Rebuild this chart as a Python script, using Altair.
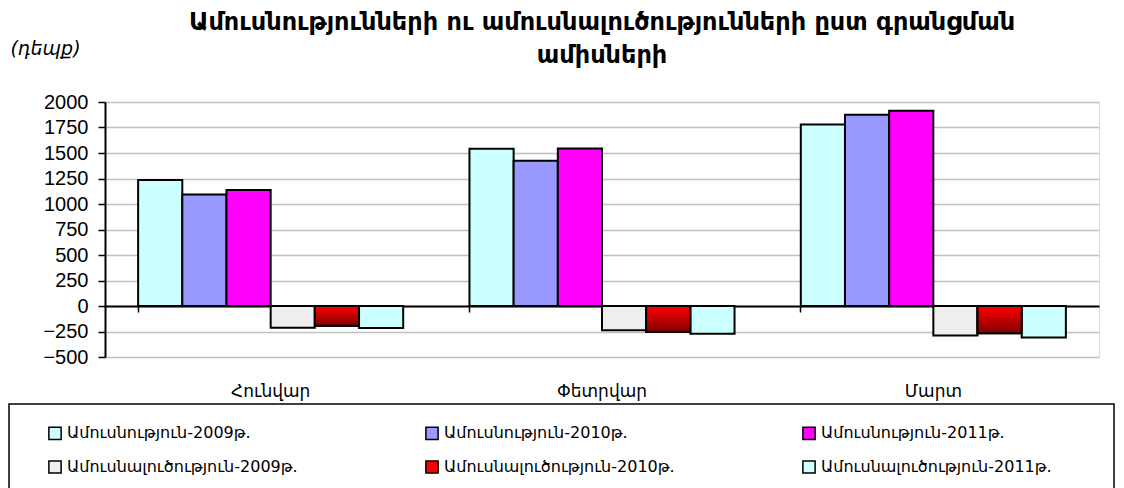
import altair as alt
import pandas as pd

months = ["Հունվար", "Փետրվար", "Մարտ"]
series = [
    "Ամուսնություն-2009թ.",
    "Ամուսնություն-2010թ.",
    "Ամուսնություն-2011թ.",
    "Ամուսնալուծություն-2009թ.",
    "Ամուսնալուծություն-2010թ.",
    "Ամուսնալուծություն-2011թ.",
]
marriage_2009 = [1235, 1542, 1780]
marriage_2010 = [1094, 1425, 1876]
marriage_2011 = [1137, 1545, 1915]
divorce_2009 = [-213, -238, -288]
divorce_2010 = [-193, -256, -268]
divorce_2011 = [-215, -272, -310]
colors = ["#CCFFFF", "#9999FF", "#FF00FF", "#EEEEEE", "#FF0000", "#CCFFFF"]
y_ticks = [-500, -250, 0, 250, 500, 750, 1000, 1250, 1500, 1750, 2000]

title_lines = [
    "Ամուսնությունների ու ամուսնալուծությունների ըստ գրանցման",
    "ամիսների",
]
unit_label = "(դեպք)"

all_values = [marriage_2009, marriage_2010, marriage_2011,
              divorce_2009, divorce_2010, divorce_2011]
rows = []
for s, vals in zip(series, all_values):
    for m, v in zip(months, vals):
        rows.append({"month": m, "series": s, "value": v})
df = pd.DataFrame(rows)

x_enc = alt.X(
    "month:N",
    sort=months,
    scale=alt.Scale(paddingInner=0.2, paddingOuter=0.1),
    axis=alt.Axis(
        title=None,
        labelAngle=0,
        labelFont="DejaVu Sans",
        labelFontSize=17,
        labelColor="black",
        domainColor="black",
        domainWidth=2,
        ticks=True,
        tickColor="black",
        tickWidth=1.5,
        tickSize=6,
        bandPosition=0,
        offset=-51,
        labelPadding=71,
    ),
)
xoff_enc = alt.XOffset(
    "series:N",
    sort=series,
    scale=alt.Scale(domain=series, paddingInner=0, paddingOuter=0),
)
y_enc = alt.Y(
    "value:Q",
    scale=alt.Scale(domain=[-500, 2000], nice=False),
    axis=alt.Axis(
        values=y_ticks,
        format="d",
        title=unit_label,
        titleAngle=0,
        titleAlign="left",
        titleBaseline="middle",
        titleX=-95,
        titleY=-54,
        titleFont="DejaVu Sans",
        titleFontSize=19,
        titleFontStyle="italic",
        titleFontWeight="normal",
        titleColor="black",
        labelFont="Liberation Sans",
        labelFontSize=20,
        labelColor="black",
        labelPadding=10,
        domainColor="black",
        domainWidth=2,
        tickColor="black",
        tickWidth=1.5,
        tickSize=7,
        gridColor="#C0C0C0",
        gridWidth=1.5,
    ),
)

bars = alt.Chart(df).mark_bar(stroke="black", strokeWidth=2).encode(
    x=x_enc,
    xOffset=xoff_enc,
    y=y_enc,
    color=alt.Color(
        "series:N",
        sort=series,
        scale=alt.Scale(domain=series, range=colors),
        legend=alt.Legend(
            title=None,
            orient="none",
            legendX=-58,
            legendY=323,
            direction="horizontal",
            columns=3,
            gridAlign="all",
            columnPadding=124,
            rowPadding=14,
            symbolType="square",
            symbolSize=150,
            symbolStrokeColor="black",
            symbolStrokeWidth=1.5,
            labelFont="DejaVu Sans",
            labelFontSize=16,
            labelColor="black",
            labelOffset=4,
            labelLimit=400,
        ),
    ),
)

gradient = alt.Gradient(
    gradient="linear",
    stops=[alt.GradientStop(color="#FF0000", offset=0),
           alt.GradientStop(color="#800000", offset=1)],
    x1=0, x2=0, y1=0, y2=1,
)
grad_bars = alt.Chart(df).transform_filter(
    alt.datum.series == series[4]
).mark_bar(color=gradient, stroke="black", strokeWidth=2).encode(
    x=x_enc, xOffset=xoff_enc, y=y_enc
)

legend_box = alt.Chart(alt.Data(values=[{}])).mark_rect(
    fill="white", fillOpacity=0, stroke="black", strokeWidth=1.5
).encode(
    x=alt.value(-96), x2=alt.value(1009), y=alt.value(302), y2=alt.value(400)
)

chart = alt.layer(bars, grad_bars, legend_box).properties(
    width=994,
    height=255,
    padding={"left": 0, "top": 3, "right": 0, "bottom": 0},
    title=alt.Title(
        text=title_lines,
        font="DejaVu Sans",
        fontSize=24,
        fontWeight="bold",
        lineHeight=33,
        anchor="middle",
        color="black",
        offset=-29,
    ),
).configure_view(stroke="#C0C0C0", strokeWidth=1.5).configure(background="white")

chart.save("out.html", embed_options={"renderer": "svg", "actions": False})
